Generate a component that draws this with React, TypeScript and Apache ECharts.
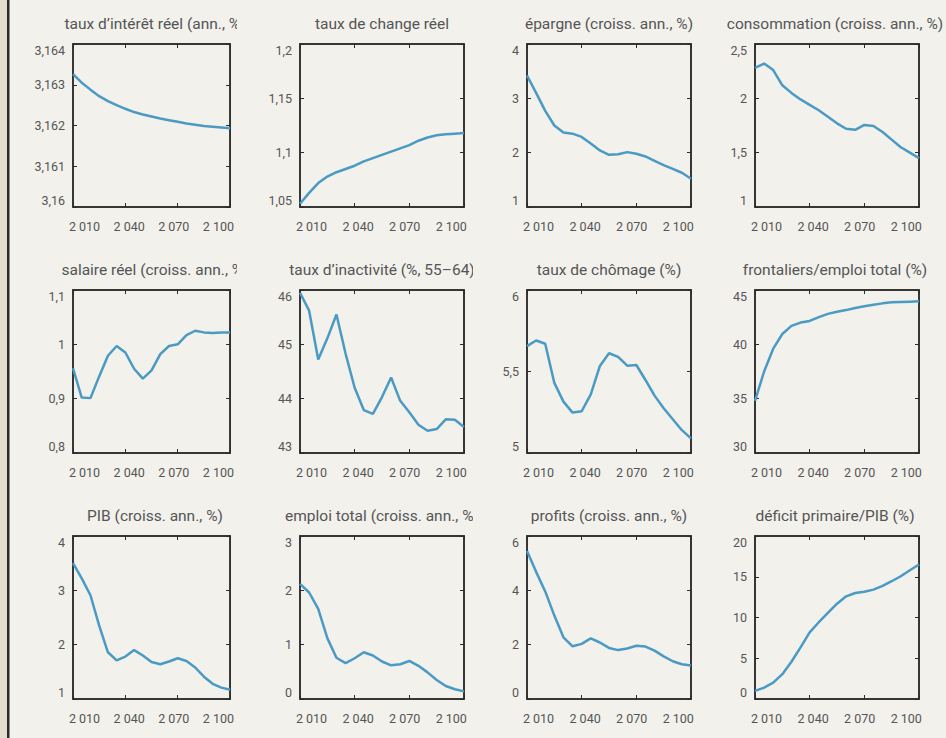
import React, { useEffect, useRef } from "react";
import * as echarts from "echarts";

const years = [2010, 2015, 2020, 2025, 2030, 2035, 2040, 2045, 2050, 2055, 2060, 2065, 2070, 2075, 2080, 2085, 2090, 2095, 2100];

const titles = [
  "taux d’intérêt réel (ann., %)",
  "taux de change réel",
  "épargne (croiss. ann., %)",
  "consommation (croiss. ann., %)",
  "salaire réel (croiss. ann., %)",
  "taux d’inactivité (%, 55–64)",
  "taux de chômage (%)",
  "frontaliers/emploi total (%)",
  "PIB (croiss. ann., %)",
  "emploi total (croiss. ann., %)",
  "profits (croiss. ann., %)",
  "déficit primaire/PIB (%)",
];

const interestRate = [3.16326, 3.16305, 3.16288, 3.16272, 3.1626, 3.1625, 3.16241, 3.16233, 3.16227, 3.16222, 3.16217, 3.16213, 3.16209, 3.16205, 3.16202, 3.16199, 3.16197, 3.16195, 3.16193];
const exchangeRate = [1.053, 1.063, 1.072, 1.078, 1.082, 1.085, 1.088, 1.092, 1.095, 1.098, 1.101, 1.104, 1.107, 1.111, 1.114, 1.116, 1.117, 1.1175, 1.118];
const savings = [3.42, 3.1, 2.77, 2.5, 2.37, 2.35, 2.29, 2.17, 2.04, 1.96, 1.97, 2.01, 1.98, 1.93, 1.85, 1.77, 1.7, 1.63, 1.52];
const consumption = [2.28, 2.32, 2.26, 2.12, 2.05, 1.99, 1.94, 1.89, 1.83, 1.77, 1.72, 1.71, 1.755, 1.745, 1.69, 1.62, 1.55, 1.5, 1.45];
const realWage = [0.956, 0.902, 0.901, 0.941, 0.979, 0.997, 0.985, 0.955, 0.937, 0.952, 0.982, 0.997, 1.0, 1.017, 1.025, 1.022, 1.021, 1.022, 1.022];
const inactivity = [45.95, 45.62, 44.72, 45.11, 45.55, 44.83, 44.2, 43.79, 43.72, 44.03, 44.39, 43.96, 43.75, 43.52, 43.41, 43.44, 43.62, 43.61, 43.48];
const unemployment = [5.656, 5.69, 5.67, 5.43, 5.315, 5.248, 5.256, 5.36, 5.534, 5.612, 5.59, 5.536, 5.54, 5.448, 5.352, 5.275, 5.207, 5.14, 5.09];
const frontier = [34.8, 37.5, 39.6, 40.95, 41.7, 42.0, 42.15, 42.5, 42.8, 43.0, 43.15, 43.35, 43.5, 43.65, 43.77, 43.87, 43.9, 43.93, 43.96];
const gdp = [3.5, 3.22, 2.91, 2.35, 1.86, 1.71, 1.78, 1.9, 1.8, 1.68, 1.64, 1.69, 1.75, 1.7, 1.58, 1.41, 1.28, 1.21, 1.17];
const employment = [2.12, 1.96, 1.66, 1.12, 0.76, 0.66, 0.75, 0.86, 0.8, 0.69, 0.62, 0.64, 0.7, 0.61, 0.49, 0.35, 0.24, 0.18, 0.14];
const profits = [5.45, 4.68, 3.96, 3.07, 2.27, 1.94, 2.03, 2.23, 2.08, 1.88, 1.8, 1.86, 1.96, 1.93, 1.78, 1.57, 1.39, 1.28, 1.23];
const deficit = [1.0, 1.4, 2.0, 3.05, 4.57, 6.33, 8.18, 9.42, 10.58, 11.69, 12.6, 13.0, 13.15, 13.42, 13.87, 14.45, 15.06, 15.8, 16.5];

const seriesValues = [interestRate, exchangeRate, savings, consumption, realWage, inactivity, unemployment, frontier, gdp, employment, profits, deficit];

const yMins = [3.16, 1.05, 1, 1, 0.8, 43, 5, 30, 1, 0, 0, 0];
const yMaxs = [3.164, 1.2, 4, 2.5, 1.1, 46, 6, 45, 4, 3, 6, 20];
const yIntervals = [0.001, 0.05, 1, 0.5, 0.1, 1, 0.5, 5, 1, 1, 2, 5];

// cell layout (one chart instance per panel)
const cellWidths = [237, 236, 237, 236];
const cellHeight = 246;
const boxLefts = [73, 63, 54, 45]; // box left inside each cell
const boxTops = [44, 44, 44];
const boxW = 164;
const boxH = 163;

const LINE = "#4a9ac4";
const AXIS = "#2b2b2b";
const TEXT = "#555555";
const BG = "#f2f1ec";
const FONT = "Roboto, 'Noto Sans', sans-serif";

const fmtYear = (v: number) => {
  const s = String(Math.round(v));
  return s.length === 4 ? s[0] + " " + s.slice(1) : s;
};
const fmtVal = (v: number) => String(Number(v.toFixed(6))).replace(".", ",");

function buildOption(i: number) {
  const r = Math.floor(i / 4);
  const c = i % 4;
  const left = boxLefts[c];
  const top = boxTops[r];
  const mkLine = () => ({ show: true, onZero: false, lineStyle: { color: AXIS, width: 1.5 } });
  const mkTick = () => ({ show: true, inside: true, length: 4, lineStyle: { color: AXIS, width: 1 } });
  const mkX = (position: string) => ({
    type: "value",
    position,
    min: 2010,
    max: 2100,
    interval: 30,
    axisLine: mkLine(),
    axisTick: mkTick(),
    axisLabel: { show: false },
    splitLine: { show: false },
  });
  const mkY = (position: string, labels: boolean) => ({
    type: "value",
    position,
    min: yMins[i],
    max: yMaxs[i],
    interval: yIntervals[i],
    axisLine: mkLine(),
    axisTick: mkTick(),
    splitLine: { show: false },
    axisLabel: labels
      ? {
          show: true,
          margin: 8,
          color: TEXT,
          fontFamily: FONT,
          fontSize: 12.5,
          verticalAlignMinLabel: "bottom",
          verticalAlignMaxLabel: "top",
          formatter: fmtVal,
        }
      : { show: false },
  });

  const graphics: any[] = [
    {
      type: "text",
      x: left + boxW / 2 - (c === 3 ? 2 : 0),
      y: top - 20,
      style: {
        text: titles[i],
        fill: TEXT,
        font: `15.5px ${FONT}`,
        textAlign: "center",
        textVerticalAlign: "middle",
      },
    },
  ];
  if (c === 0) {
    graphics.push({ type: "rect", shape: { x: 0, y: 0, width: 7, height: cellHeight }, style: { fill: "#e4ddcc" } });
    graphics.push({ type: "rect", shape: { x: 7, y: 0, width: 2.5, height: cellHeight }, style: { fill: "#2a2a2a" } });
  }

  return {
    animation: false,
    backgroundColor: BG,
    grid: {
      left,
      top,
      width: boxW,
      height: boxH,
      show: true,
      backgroundColor: "transparent",
      borderColor: AXIS,
      borderWidth: 1.5,
    },
    xAxis: [
      mkX("bottom"),
      mkX("top"),
      {
        type: "value",
        position: "bottom",
        min: 2010,
        max: 2115.6,
        interval: 30,
        axisLine: { show: false },
        axisTick: { show: false },
        splitLine: { show: false },
        axisLabel: {
          show: true,
          margin: 13,
          color: TEXT,
          fontFamily: FONT,
          fontSize: 12.5,
          align: "center",
          padding: [0, 0, 0, 23],
          showMaxLabel: false,
          formatter: fmtYear,
        },
      },
    ],
    yAxis: [mkY("left", true), mkY("right", false)],
    series: [
      {
        type: "line",
        xAxisIndex: 0,
        yAxisIndex: 0,
        data: years.map((y, k) => [y, seriesValues[i][k]]),
        showSymbol: false,
        symbol: "none",
        lineStyle: { color: LINE, width: 2.5 },
        clip: false,
      },
    ],
    graphic: graphics,
  };
}

export default function App() {
  const refs = useRef<(HTMLDivElement | null)[]>([]);

  useEffect(() => {
    const charts: echarts.ECharts[] = [];
    for (let i = 0; i < 12; i++) {
      const el = refs.current[i];
      if (!el) continue;
      const chart = echarts.init(el, undefined, { renderer: "svg" });
      chart.setOption(buildOption(i) as any);
      charts.push(chart);
    }
    return () => charts.forEach((ch) => ch.dispose());
  }, []);

  return (
    <div
      style={{
        position: "absolute",
        left: 0,
        top: 0,
        width: 946,
        height: 738,
        display: "flex",
        flexWrap: "wrap",
        background: BG,
      }}
    >
      {titles.map((_, i) => (
        <div
          key={i}
          ref={(el) => {
            refs.current[i] = el;
          }}
          style={{ width: cellWidths[i % 4], height: cellHeight }}
        />
      ))}
    </div>
  );
}
